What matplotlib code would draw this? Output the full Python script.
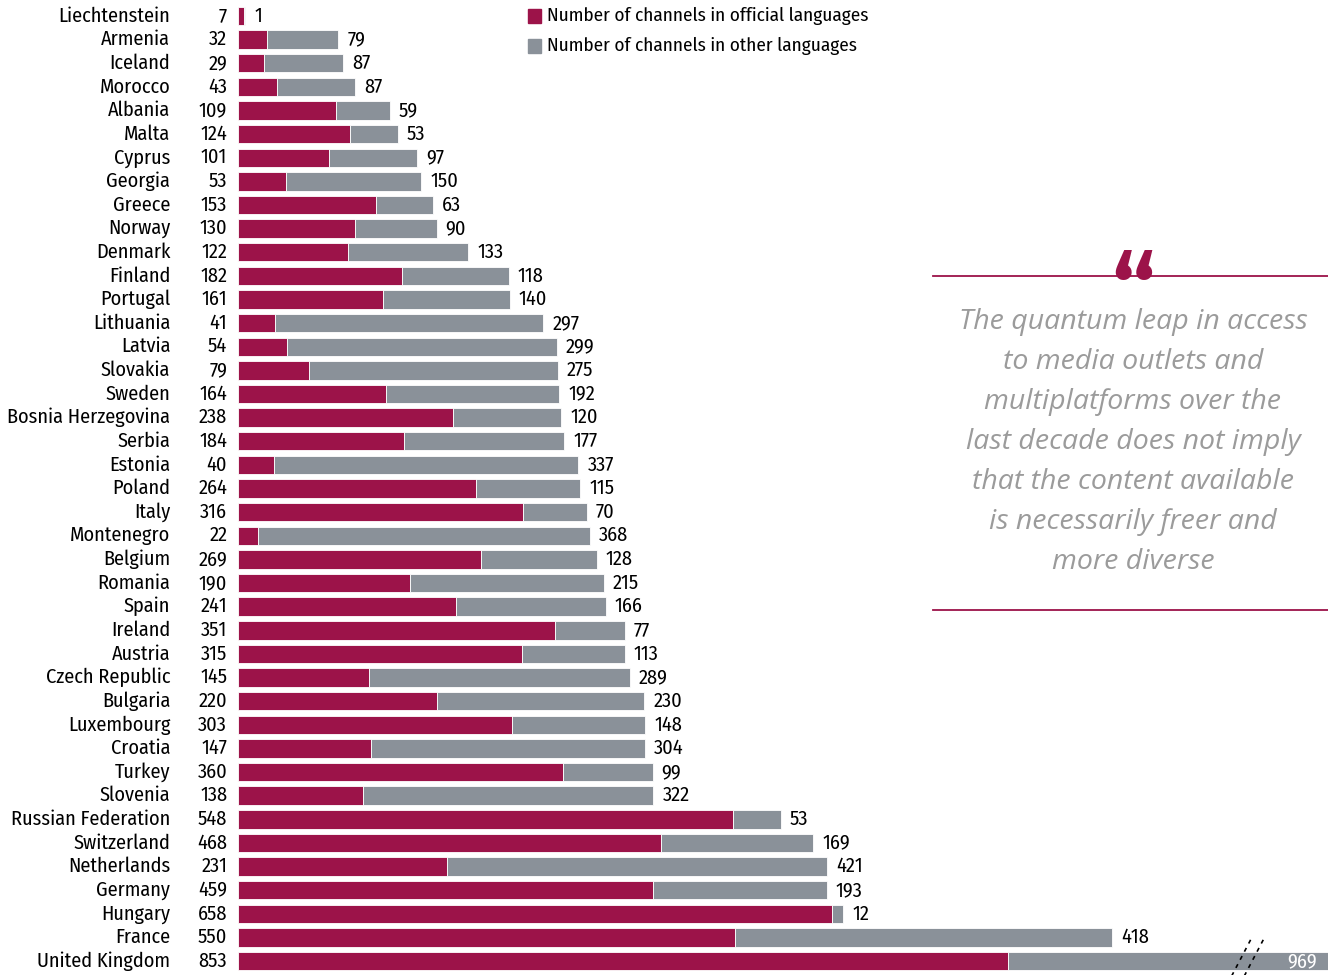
import matplotlib.pyplot as plt
from matplotlib import font_manager

countries = ["Liechtenstein", "Armenia", "Iceland", "Morocco", "Albania", "Malta", "Cyprus",
             "Georgia", "Greece", "Norway", "Denmark", "Finland", "Portugal", "Lithuania",
             "Latvia", "Slovakia", "Sweden", "Bosnia Herzegovina", "Serbia", "Estonia",
             "Poland", "Italy", "Montenegro", "Belgium", "Romania", "Spain", "Ireland",
             "Austria", "Czech Republic", "Bulgaria", "Luxembourg", "Croatia", "Turkey",
             "Slovenia", "Russian Federation", "Switzerland", "Netherlands", "Germany",
             "Hungary", "France", "United Kingdom"]
official = [7, 32, 29, 43, 109, 124, 101, 53, 153, 130, 122, 182, 161, 41, 54, 79, 164, 238,
            184, 40, 264, 316, 22, 269, 190, 241, 351, 315, 145, 220, 303, 147, 360, 138,
            548, 468, 231, 459, 658, 550, 853]
other = [1, 79, 87, 87, 59, 53, 97, 150, 63, 90, 133, 118, 140, 297, 299, 275, 192, 120,
         177, 337, 115, 70, 368, 128, 215, 166, 77, 113, 289, 230, 148, 304, 99, 322, 53,
         169, 421, 193, 12, 418, 969]
legend_labels = ["Number of channels in official languages",
                 "Number of channels in other languages"]
quote = ["The quantum leap in access", "to media outlets and",
         "multiplatforms over the", "last decade does not imply",
         "that the content available", "is necessarily freer and", "more diverse"]

RED = "#9c1349"
GREY = "#8a9199"
XMAX = 1207

names = {f.name for f in font_manager.fontManager.ttflist}
cond = "DejaVu Sans"
for cand in ["Fira Sans Condensed", "Roboto Condensed", "Open Sans Condensed",
             "Encode Sans Condensed", "Asap Condensed", "IBM Plex Sans Condensed",
             "Liberation Sans Narrow"]:
    if cand in names:
        cond = cand
        break
plt.rcParams["font.family"] = [cond, "DejaVu Sans"]

fig = plt.figure(figsize=(13.28, 9.75), dpi=100)
ax = fig.add_axes([238 / 1328, 0, 1090 / 1328, 1])
ys = list(range(len(countries)))
ax.barh(ys, official, height=0.78, color=RED, edgecolor="white", linewidth=0.6)
ax.barh(ys, other, left=official, height=0.78, color=GREY, edgecolor="white", linewidth=0.6)
ax.set_xlim(0, XMAX)
ax.set_ylim(40.59, -0.677)
ax.axis("off")

FS = 14.6
for i in ys:
    ax.text(-12, i, str(official[i]), ha="right", va="center", fontsize=FS, clip_on=False)
    ax.text(-75, i, countries[i], ha="right", va="center", fontsize=FS, clip_on=False)
    end = official[i] + other[i]
    if end > XMAX:
        # bar runs past the axis: label it inside, in white
        ax.text(XMAX - 12, i, str(other[i]), ha="right", va="center", fontsize=FS,
                color="white")
    else:
        ax.text(end + 10, i, str(other[i]), ha="left", va="center", fontsize=FS)

# axis break marks on the truncated bar
for dx in (0, 14):
    ax.plot([1098 + dx, 1122 + dx], [40.8, 39.05], color="black", lw=1.2,
            linestyle=(0, (2.5, 3)), clip_on=False)

# legend
for k, (lab, col) in enumerate(zip(legend_labels, [RED, GREY])):
    yy = 16 + 30 * k
    fig.patches.append(plt.Rectangle((528 / 1328, 1 - (yy + 7) / 975), 13 / 1328, 14 / 975,
                                     transform=fig.transFigure, color=col))
    fig.text(547 / 1328, 1 - yy / 975, lab, va="center", fontsize=13.8)

# quote box
for yy in (276, 610):
    fig.add_artist(plt.Line2D([933 / 1328, 1], [1 - yy / 975] * 2, color=RED, lw=1.3,
                              transform=fig.transFigure))
fig.text(1133 / 1328, 1 - 250 / 975, "\u201c", ha="center", va="top", fontsize=72,
         color=RED, fontweight="bold")
for k, line in enumerate(quote):
    fig.text(1133 / 1328, 1 - (322 + 40 * k) / 975, line, ha="center", va="center",
             fontsize=20.5, style="italic", color="#9b9b9b",
             family=["Open Sans", "DejaVu Sans"])

fig.savefig("out.png", dpi=100)
